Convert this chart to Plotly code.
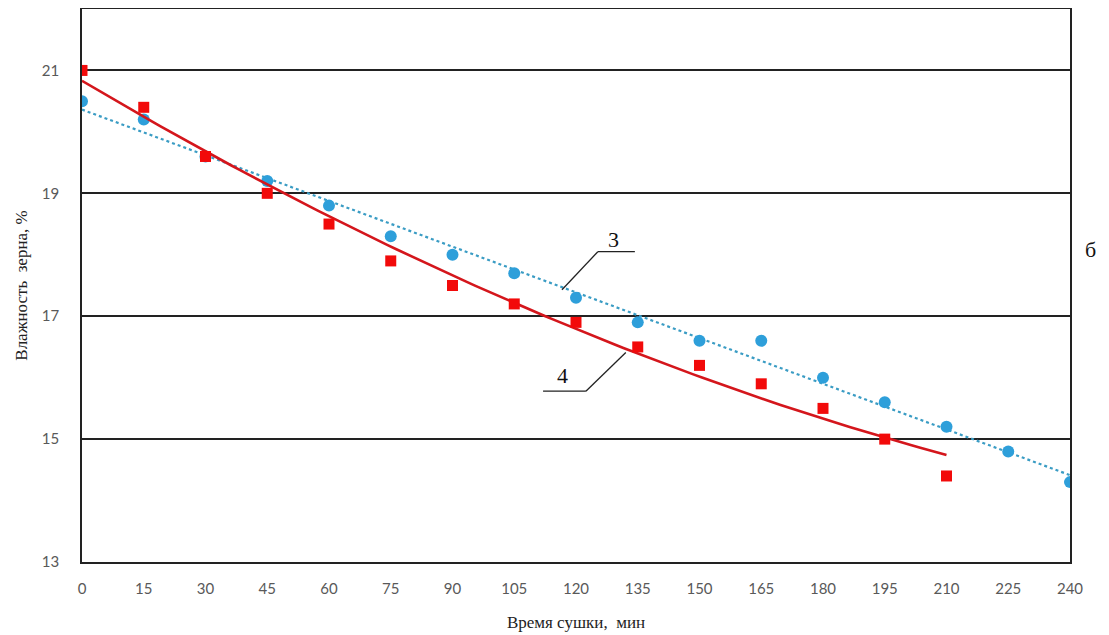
import numpy as np
import plotly.graph_objects as go

time_min = [0, 15, 30, 45, 60, 75, 90, 105, 120, 135, 150, 165, 180, 195, 210, 225, 240]
moisture_3 = [20.5, 20.2, 19.6, 19.2, 18.8, 18.3, 18.0, 17.7, 17.3, 16.9, 16.6, 16.6, 16.0, 15.6, 15.2, 14.8, 14.3]
time_4 = [0, 15, 30, 45, 60, 75, 90, 105, 120, 135, 150, 165, 180, 195, 210]
moisture_4 = [21.0, 20.4, 19.6, 19.0, 18.5, 17.9, 17.5, 17.2, 16.9, 16.5, 16.2, 15.9, 15.5, 15.0, 14.4]
x_ticks = list(range(0, 241, 15))
y_ticks = [13, 15, 17, 19, 21]

# trendlines (least squares, like spreadsheet trendlines)
t3 = np.array(time_min, dtype=float)
m3 = np.array(moisture_3, dtype=float)
k3 = np.polyfit(t3, m3, 1)
fit3_x = np.linspace(t3.min(), t3.max(), 100)
fit3_y = np.polyval(k3, fit3_x)

t4 = np.array(time_4, dtype=float)
m4 = np.array(moisture_4, dtype=float)
k4 = np.polyfit(t4, m4, 2)
fit4_x = np.linspace(t4.min(), t4.max(), 100)
fit4_y = np.polyval(k4, fit4_x)

fig = go.Figure()
fig.add_trace(go.Scatter(x=fit3_x, y=fit3_y, mode="lines",
                         line=dict(color="#3A9CC4", width=2.2, dash="dot"),
                         showlegend=False, hoverinfo="skip"))
fig.add_trace(go.Scatter(x=time_min, y=moisture_3, mode="markers",
                         marker=dict(symbol="circle", size=12, color="#2E9FDA"),
                         showlegend=False))
fig.add_trace(go.Scatter(x=fit4_x, y=fit4_y, mode="lines",
                         line=dict(color="#D4161C", width=2.6),
                         showlegend=False, hoverinfo="skip"))
fig.add_trace(go.Scatter(x=time_4, y=moisture_4, mode="markers",
                         marker=dict(symbol="square", size=11, color="#F20A0A"),
                         showlegend=False))

# leader lines for labels 3 and 4
lc = dict(color="#222222", width=1.3)
fig.add_shape(type="line", x0=125.3, y0=18.05, x1=134.3, y1=18.05, line=lc)
fig.add_shape(type="line", x0=125.3, y0=18.05, x1=116.6, y1=17.43, line=lc)
fig.add_shape(type="line", x0=112.0, y0=15.78, x1=122.4, y1=15.78, line=lc)
fig.add_shape(type="line", x0=122.4, y0=15.78, x1=132.1, y1=16.41, line=lc)

serif = "Liberation Serif"
fig.add_annotation(x=129, y=18.25, text="3", showarrow=False,
                   font=dict(family=serif, size=22, color="#111111"))
fig.add_annotation(x=116.8, y=16.04, text="4", showarrow=False,
                   font=dict(family=serif, size=22, color="#111111"))
fig.add_annotation(xref="paper", yref="paper", x=1.013, y=0.565, xanchor="left",
                   text="б", showarrow=False,
                   font=dict(family=serif, size=22, color="#111111"))

tickfont = dict(family="Lato", size=15, color="#595959")
fig.update_layout(
    width=1101, height=627,
    margin=dict(l=74, r=39, t=1, b=73, autoexpand=False),
    plot_bgcolor="white", paper_bgcolor="white",
    xaxis=dict(range=[0, 240], tickvals=x_ticks, ticktext=[str(v) for v in x_ticks],
               showgrid=False, zeroline=False, showline=True, mirror=True,
               linecolor="#222222", linewidth=1.5, tickfont=tickfont,
               ticklabelstandoff=12, automargin=False,
               title=dict(text="Время сушки,  мин", font=dict(family=serif, size=17, color="#222222"),
                          standoff=20)),
    yaxis=dict(range=[13, 22], tickvals=y_ticks, ticktext=[str(v) for v in y_ticks],
               showgrid=True, gridcolor="#222222", gridwidth=1.5, zeroline=False,
               showline=True, mirror=True, linecolor="#222222", linewidth=1.5,
               tickfont=tickfont, ticklabelstandoff=18, automargin=False,
               title=dict(text="Влажность  зерна, %", font=dict(family=serif, size=17, color="#222222"),
                          standoff=10)),
)

fig.write_html("out.html")
